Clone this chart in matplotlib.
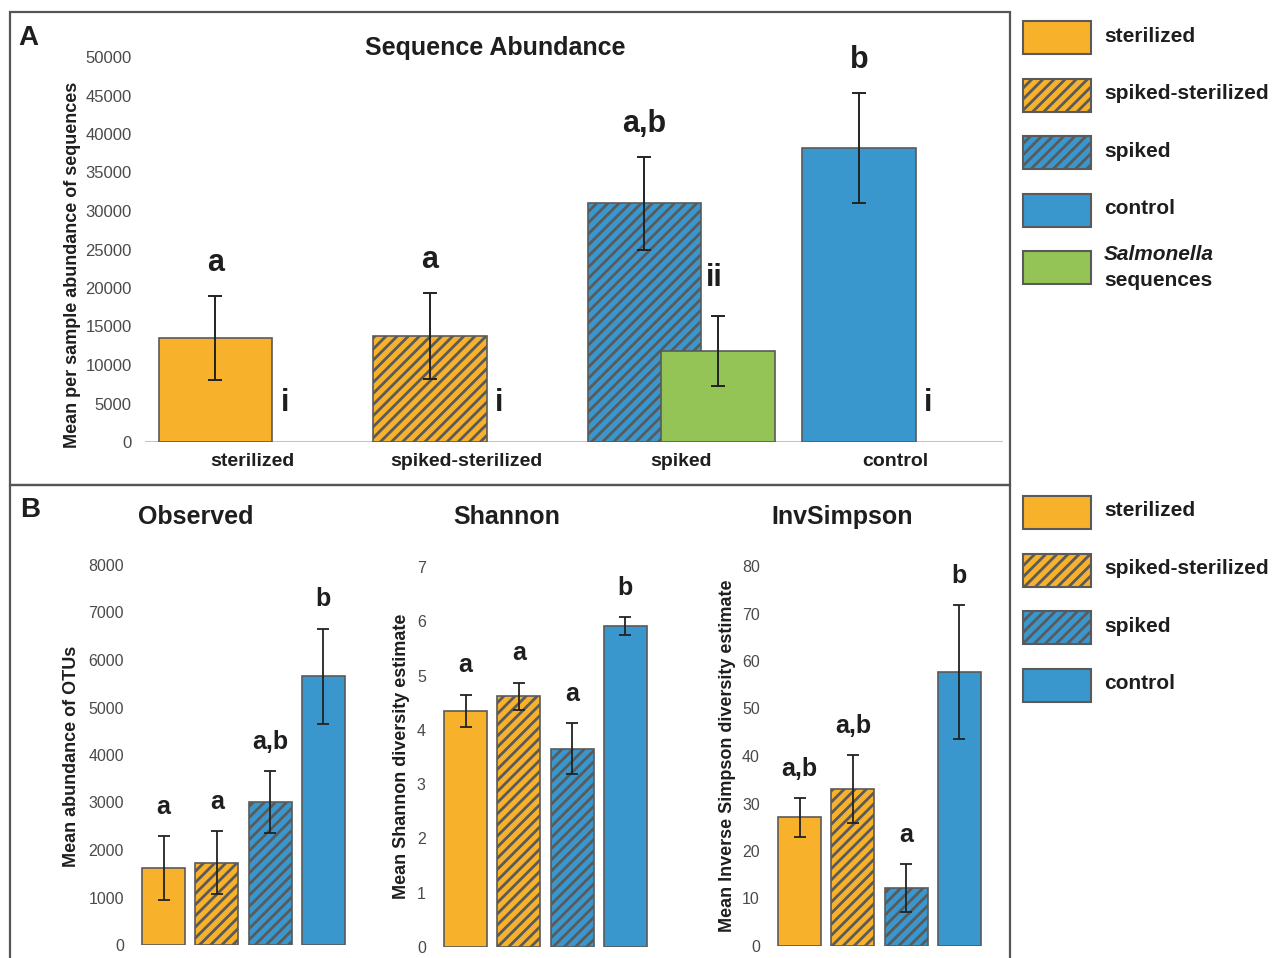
import numpy as np
import matplotlib.pyplot as plt
from matplotlib.patches import Rectangle

plt.rcParams['font.family'] = ['Liberation Sans', 'DejaVu Sans']
plt.rcParams['hatch.linewidth'] = 2.0

W, H = 1279, 958

# ---- data ----
groups = ['sterilized', 'spiked-sterilized', 'spiked', 'control']

seq_mean = [13500, 13800, 31000, 38200]
seq_err = [5500, 5600, 6000, 7100]
seq_letters = ['a', 'a', 'a,b', 'b']

salm_mean = [0, 0, 11800, 0]
salm_err = [0, 0, 4500, 0]
salm_letters = ['i', 'i', 'ii', 'i']

obs_mean = [1620, 1730, 3010, 5660]
obs_err = [670, 660, 650, 1000]
obs_letters = ['a', 'a', 'a,b', 'b']

shannon_mean = [4.35, 4.62, 3.65, 5.91]
shannon_err = [0.30, 0.25, 0.47, 0.17]
shannon_letters = ['a', 'a', 'a', 'b']

invsimp_mean = [27.1, 33.0, 12.2, 57.7]
invsimp_err = [4.1, 7.2, 5.1, 14.1]
invsimp_letters = ['a,b', 'a,b', 'a', 'b']

# ---- style ----
ORANGE = '#F8B12B'
BLUE = '#3A97CE'
GREEN = '#94C455'
EDGE = '#5a5a5a'
TXT = '#1e1e1e'
TICK = '#4a4a4a'
face = [ORANGE, ORANGE, BLUE, BLUE]
hatches = ['', '///', '///', '']


def box(l, t, r, b):
    # pixel box -> figure fraction
    return [l / W, 1 - b / H, (r - l) / W, (b - t) / H]


def clean(ax, ymax, step, tick_fs):
    for s in ax.spines.values():
        s.set_visible(False)
    ax.patch.set_visible(False)
    ax.set_xlim(-0.5, 3.5)
    ax.set_ylim(0, ymax)
    ax.set_yticks(np.arange(0, ymax + step / 2, step))
    ax.tick_params(axis='y', length=0, pad=9.5, labelsize=tick_fs, labelcolor=TICK)


fig = plt.figure(figsize=(W / 100, H / 100), dpi=100)

# overlay in pixel coordinates: frames, panel letters, titles, legends
over = fig.add_axes([0, 0, 1, 1])
over.set_xlim(0, W)
over.set_ylim(H, 0)
over.axis('off')

over.add_patch(Rectangle((10, 12), 1000, 473, fill=False, ec='#555555', lw=1.6))
over.add_patch(Rectangle((10, 485), 1000, 490, fill=False, ec='#555555', lw=1.6))
over.text(28, 38, 'A', fontsize=20, fontweight='bold', color=TXT, ha='center', va='center')
over.text(30, 510, 'B', fontsize=20, fontweight='bold', color=TXT, ha='center', va='center')


def legend(top, labels):
    for i, lab in enumerate(labels):
        y = top + i * 57.5
        p = Rectangle((1023, y), 68, 33, fc=face[i] if i < 4 else GREEN, ec=EDGE, lw=1.5)
        if i < 4:
            p.set_hatch(hatches[i])
        over.add_patch(p)
        if lab == 'Salmonella':
            over.text(1104, y + 3, 'Salmonella', fontsize=15, fontweight='bold', style='italic',
                      color=TXT, va='center')
            over.text(1104, y + 30, 'sequences', fontsize=15, fontweight='bold', color=TXT, va='center')
        else:
            over.text(1104, y + 15, lab, fontsize=15, fontweight='bold', color=TXT, va='center')


legend(21, groups + ['Salmonella'])
legend(496, groups)

# ---- panel A ----
x = np.arange(len(groups))
off, wA = 0.172, 0.53
axA = fig.add_axes(box(145, 57, 1003, 442))
clean(axA, 50000, 5000, 12)
axA.axhline(0, color='#c4c4c4', lw=1.5, zorder=0)
bars = axA.bar(x - off, seq_mean, wA, color=face, edgecolor=EDGE, linewidth=1.2, zorder=2)
for b, h in zip(bars, hatches):
    b.set_hatch(h)
axA.errorbar(x - off, seq_mean, yerr=seq_err, fmt='none', ecolor='#222222',
             elinewidth=1.4, capsize=5, capthick=1.4, zorder=4)
salm_lw = [1.2 if v > 0 else 0 for v in salm_mean]
axA.bar(x + off, salm_mean, wA, color=GREEN, edgecolor=EDGE, linewidth=salm_lw, zorder=3)
nz = np.nonzero(salm_err)[0]
axA.errorbar(x[nz] + off, np.array(salm_mean)[nz], yerr=np.array(salm_err)[nz], fmt='none',
             ecolor='#222222', elinewidth=1.4, capsize=5, capthick=1.4, zorder=5)
for i in x:
    axA.annotate(seq_letters[i], (x[i] - off, seq_mean[i] + seq_err[i]), xytext=(0, 18),
                 textcoords='offset points', ha='center', va='baseline',
                 fontsize=22, fontweight='bold', color=TXT)
    axA.annotate(salm_letters[i], (x[i] + off - 0.02, salm_mean[i] + salm_err[i]), xytext=(0, 22),
                 textcoords='offset points', ha='center', va='baseline',
                 fontsize=22, fontweight='bold', color=TXT)
axA.set_xticks(x, groups, fontsize=14, fontweight='bold', color=TXT)
axA.tick_params(axis='x', length=0, pad=8)
over.text(495, 48, 'Sequence Abundance', fontsize=18, fontweight='bold', color=TXT,
          ha='center', va='center')
over.text(73, 265, 'Mean per sample abundance of sequences', rotation=90, fontsize=13,
          fontweight='bold', color=TXT, ha='center', va='center')


# ---- panel B ----
def diversity(pix, mean, err, letters, ymax, step, title, title_x, ylabel, ylabel_x):
    ax = fig.add_axes(box(*pix))
    clean(ax, ymax, step, 11.5)
    bb = ax.bar(x, mean, 0.81, color=face, edgecolor=EDGE, linewidth=1.2, zorder=2)
    for b, h in zip(bb, hatches):
        b.set_hatch(h)
    ax.errorbar(x, mean, yerr=err, fmt='none', ecolor='#222222', elinewidth=1.3,
                capsize=4.5, capthick=1.3, zorder=4)
    for i in x:
        ax.annotate(letters[i], (x[i], mean[i] + err[i]), xytext=(0, 16),
                    textcoords='offset points', ha='center', va='baseline',
                    fontsize=18, fontweight='bold', color=TXT)
    ax.set_xticks([])
    over.text(title_x, 517, title, fontsize=18, fontweight='bold', color=TXT,
              ha='center', va='center')
    over.text(ylabel_x, 756, ylabel, rotation=90, fontsize=13, fontweight='bold',
              color=TXT, ha='center', va='center')
    return ax


diversity((137, 565, 350, 945), obs_mean, obs_err, obs_letters, 8000, 1000,
          'Observed', 196, 'Mean abundance of OTUs', 72)
diversity((439, 567, 652, 947), shannon_mean, shannon_err, shannon_letters, 7, 1,
          'Shannon', 507, 'Mean Shannon diversity estimate', 402)
diversity((773, 566, 986, 946), invsimp_mean, invsimp_err, invsimp_letters, 80, 10,
          'InvSimpson', 842, 'Mean Inverse Simpson diversity estimate', 727)

fig.savefig('out.png', dpi=100)
